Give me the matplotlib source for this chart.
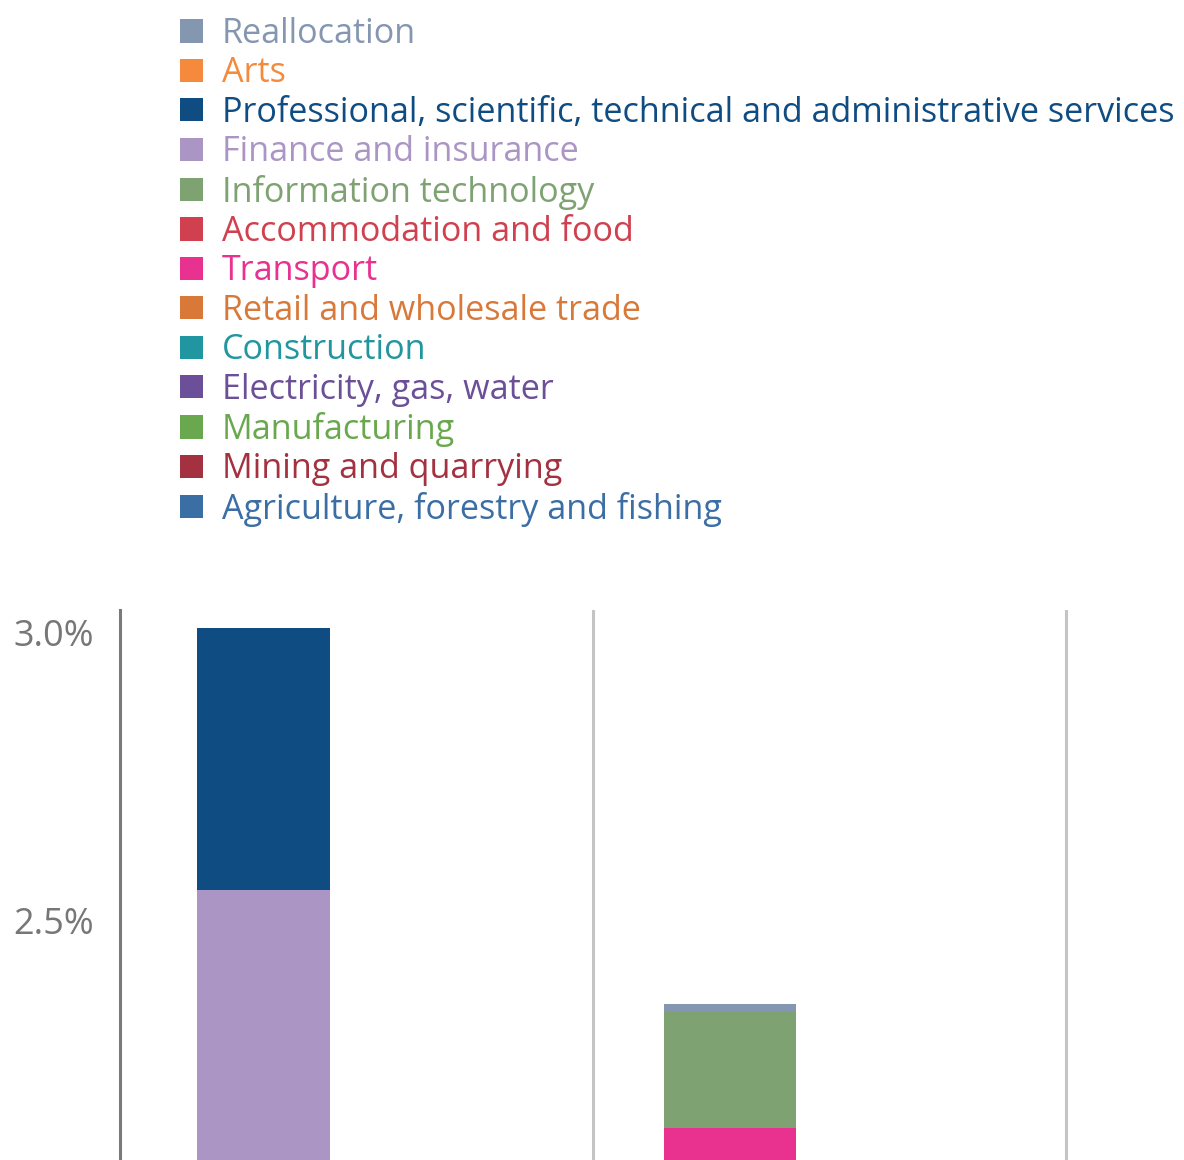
import matplotlib
matplotlib.use("Agg")
import matplotlib.pyplot as plt
from matplotlib.patches import Patch

plt.rcParams['font.family'] = ['Open Sans', 'DejaVu Sans']

# Sector order as shown in the legend (top to bottom)
sectors = [
    "Reallocation",
    "Arts",
    "Professional, scientific, technical and administrative services",
    "Finance and insurance",
    "Information technology",
    "Accommodation and food",
    "Transport",
    "Retail and wholesale trade",
    "Construction",
    "Electricity, gas, water",
    "Manufacturing",
    "Mining and quarrying",
    "Agriculture, forestry and fishing",
]
colors = [
    "#8596b1", "#f58a3c", "#0e4c82", "#ab95c4", "#7fa272", "#d0404e",
    "#e9318f", "#d8793a", "#2296a0", "#6b4f98", "#6aa84f", "#a3313f",
    "#3b6ea5",
]

# Visible portion of two stacked bars (percent). Everything stacked below the
# visible window is summarised as "below".
below = [2.00, 2.00]
seg_finance = [0.552, 0.0]
seg_prof = [0.457, 0.0]
seg_transport = [0.0, 0.138]
seg_it = [0.0, 0.202]
seg_realloc = [0.0, 0.014]

yticks = [2.5, 3.0]
ytick_labels = ["2.5%", "3.0%"]

W, H = 1184, 1160
fig = plt.figure(figsize=(W / 100, H / 100), dpi=100)
ax = fig.add_axes([120 / W, 0, 1 - 120 / W, (H - 610) / H])

xpos = [0.303, 1.29]
width = 0.28
stack_order = [
    ("Finance and insurance", seg_finance),
    ("Professional, scientific, technical and administrative services", seg_prof),
    ("Transport", seg_transport),
    ("Information technology", seg_it),
    ("Reallocation", seg_realloc),
]
bottom = list(below)
for name, vals in stack_order:
    c = colors[sectors.index(name)]
    ax.bar(xpos, vals, width=width, bottom=bottom, color=c, edgecolor="none")
    bottom = [b + v for b, v in zip(bottom, vals)]

ax.set_xlim(0, 1064 / 473)
ax.set_ylim(2.082, 3.040)
for xs in [1.0, 2.0]:
    ax.axvline(xs, color="#c4c4c4", lw=2.2, zorder=0)

for s in ["top", "right", "bottom"]:
    ax.spines[s].set_visible(False)
ax.spines["left"].set_color("#7a7a7a")
ax.spines["left"].set_linewidth(2.2)
ax.set_xticks([])
ax.set_yticks(yticks)
ax.set_yticklabels(ytick_labels)
ax.tick_params(axis="y", length=0, pad=18.5, labelsize=26, labelcolor="#777777")

handles = [Patch(facecolor=c, edgecolor="none") for c in colors]
leg = fig.legend(handles, sectors, loc="upper left",
                 bbox_to_anchor=(180 / W, 1 - 17 / H),
                 frameon=False, fontsize=24.6, labelcolor=colors,
                 handlelength=0.67, handleheight=0.67, handletextpad=0.55,
                 labelspacing=0.158, borderaxespad=0, borderpad=0)

fig.savefig("out.png", dpi=100, facecolor="white")
